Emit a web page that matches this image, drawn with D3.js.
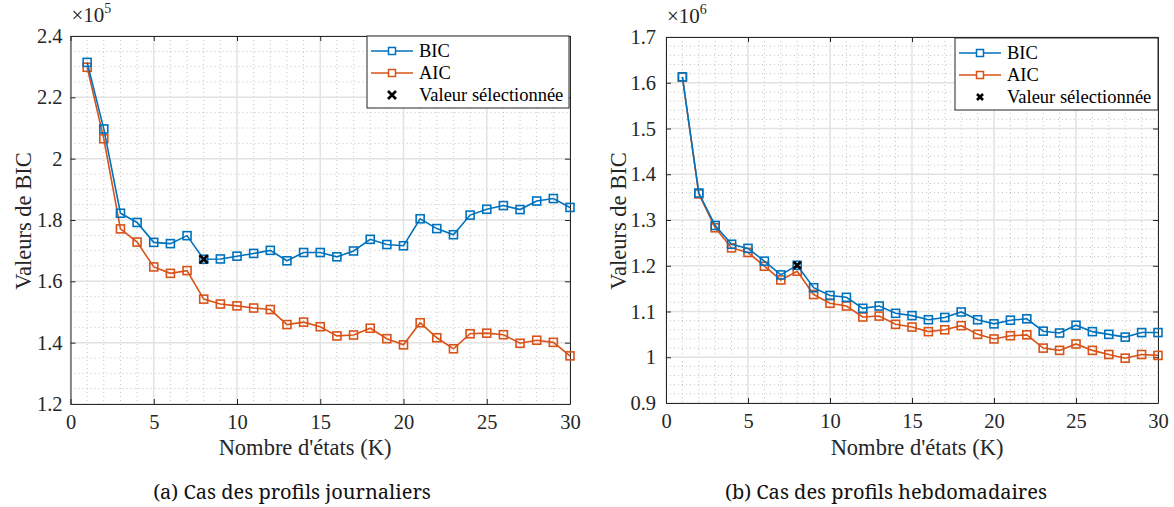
<!DOCTYPE html>
<html>
<head>
<meta charset="utf-8">
<script src="https://cdn.jsdelivr.net/npm/d3@7"></script>
<style>
  body { margin: 0; background: #fff; }
  svg { display: block; font-family: "Liberation Serif", "Times New Roman", serif; }
</style>
</head>
<body>
<svg id="chart" width="1174" height="507"></svg>
<script>
// number of states K (x categories)
const kValues = [1, 2, 3, 4, 5, 6, 7, 8, 9, 10, 11, 12, 13, 14, 15, 16, 17, 18, 19, 20, 21, 22, 23, 24, 25, 26, 27, 28, 29, 30];

// (a) daily profiles
const dailyBIC = [231400, 209700, 182200, 179200, 172700, 172300, 174900, 167200, 167300, 168200, 169100, 170100, 166700, 169400, 169400, 168000, 169900, 173700, 172000, 171600, 180400, 177200, 175200, 181600, 183500, 184700, 183400, 186200, 187000, 184100];
const dailyAIC = [229800, 206500, 177100, 172800, 164700, 162600, 163500, 154200, 152600, 152000, 151300, 150800, 145900, 146700, 145200, 142200, 142500, 144700, 141300, 139300, 146500, 141600, 138000, 142900, 143100, 142600, 139800, 140800, 140100, 135700];
const dailyYTicks = [120000, 140000, 160000, 180000, 200000, 220000, 240000];

// (b) weekly profiles
const weeklyBIC = [1613000, 1359000, 1288000, 1247000, 1238000, 1210000, 1180000, 1201000, 1152000, 1135000, 1131000, 1107000, 1112000, 1096000, 1091000, 1082000, 1087000, 1099000, 1082000, 1073000, 1081000, 1084000, 1057000, 1053000, 1070000, 1056000, 1050000, 1044000, 1054000, 1054000];
const weeklyAIC = [1612000, 1357000, 1283000, 1239000, 1229000, 1199000, 1169000, 1188000, 1137000, 1118000, 1112000, 1088000, 1090000, 1072000, 1066000, 1056000, 1060000, 1069000, 1050000, 1040000, 1047000, 1049000, 1020000, 1015000, 1029000, 1015000, 1006000, 998000, 1006000, 1004000];
const weeklyYTicks = [900000, 1000000, 1100000, 1200000, 1300000, 1400000, 1500000, 1600000, 1700000];

const xTicks = [0, 5, 10, 15, 20, 25, 30];
const selectedK = 8;
const legendLabels = ["BIC", "AIC", "Valeur sélectionnée"];

const blue = "#0072BD", orange = "#D95319", axisColor = "#262626";
const svg = d3.select("#chart");

function drawPanel(p) {
    const x = d3.scaleLinear().domain([0, 30]).range([p.left, p.right]);
    const y = d3.scaleLinear().domain(p.yDomain).range([p.bottom, p.top]);
    const g = svg.append("g");

    // minor grid (dotted)
    const xMinor = d3.range(0, 31, 1).filter(v => v % 5 !== 0);
    g.selectAll(".xminor").data(xMinor).enter().append("line")
        .attr("x1", d => x(d)).attr("x2", d => x(d))
        .attr("y1", p.top).attr("y2", p.bottom)
        .attr("stroke", "#c4c4c4").attr("stroke-width", 1).attr("stroke-dasharray", "1,3");
    const yMinor = d3.range(p.yDomain[0], p.yDomain[1] + 1, p.yMinorStep)
        .filter(v => !p.yTicks.some(t => Math.abs(t - v) < p.yMinorStep / 10));
    g.selectAll(".yminor").data(yMinor).enter().append("line")
        .attr("x1", p.left).attr("x2", p.right)
        .attr("y1", d => y(d)).attr("y2", d => y(d))
        .attr("stroke", "#c4c4c4").attr("stroke-width", 1).attr("stroke-dasharray", "1,3");

    // major grid
    g.selectAll(".xmajor").data(xTicks).enter().append("line")
        .attr("x1", d => x(d)).attr("x2", d => x(d))
        .attr("y1", p.top).attr("y2", p.bottom)
        .attr("stroke", "#e2e2e2").attr("stroke-width", 1.5);
    g.selectAll(".ymajor").data(p.yTicks).enter().append("line")
        .attr("x1", p.left).attr("x2", p.right)
        .attr("y1", d => y(d)).attr("y2", d => y(d))
        .attr("stroke", "#e2e2e2").attr("stroke-width", 1.5);

    // axes, ticks inside, box on
    const fmt = d => d3.format(".1f")(d / p.scale).replace(/\.0$/, "");
    const axL = g.append("g").attr("transform", `translate(${p.left},0)`)
        .call(d3.axisLeft(y).tickValues(p.yTicks).tickSizeInner(-5).tickSizeOuter(0).tickPadding(p.yPad).tickFormat(fmt));
    const axR = g.append("g").attr("transform", `translate(${p.right},0)`)
        .call(d3.axisRight(y).tickValues(p.yTicks).tickSizeInner(-5).tickSizeOuter(0).tickFormat(""));
    const axB = g.append("g").attr("transform", `translate(0,${p.bottom})`)
        .call(d3.axisBottom(x).tickValues(xTicks).tickSizeInner(-5).tickSizeOuter(0).tickPadding(10));
    const axT = g.append("g").attr("transform", `translate(0,${p.top})`)
        .call(d3.axisTop(x).tickValues(xTicks).tickSizeInner(-5).tickSizeOuter(0).tickFormat(""));
    [axL, axR, axB, axT].forEach(a => {
        a.attr("font-family", null).attr("font-size", null);
        a.selectAll("path, line").attr("stroke", axisColor).attr("stroke-width", 1);
        a.selectAll("text").attr("fill", axisColor).style("font-size", "20.5px");
    });

    // exponent label
    const ex = g.append("text").attr("x", p.left + 1).attr("y", p.top - 14)
        .attr("fill", axisColor).style("font-size", "21px");
    ex.append("tspan").text("×10");
    ex.append("tspan").attr("dy", -9).style("font-size", "14px").text(p.exponent);

    // series
    const series = [
        { values: p.aic, color: orange },
        { values: p.bic, color: blue }
    ];
    const line = d3.line().x((d, i) => x(kValues[i])).y(d => y(d));
    series.forEach(s => {
        g.append("path").datum(s.values)
            .attr("d", line).attr("fill", "none")
            .attr("stroke", s.color).attr("stroke-width", 1.6);
        g.selectAll(null).data(s.values).enter().append("rect")
            .attr("x", (d, i) => x(kValues[i]) - p.ms / 2)
            .attr("y", d => y(d) - p.ms / 2)
            .attr("width", p.ms).attr("height", p.ms)
            .attr("fill", "none").attr("stroke", s.color).attr("stroke-width", 1.6);
    });

    // selected value
    const si = kValues.indexOf(selectedK);
    drawX(g, x(selectedK), y(p.bic[si]), p.xs);

    // axis titles and caption
    g.append("text").attr("x", p.xLabelX).attr("y", 455).attr("text-anchor", "middle")
        .attr("fill", axisColor).style("font-size", "22.5px").text("Nombre d'états (K)");
    g.append("text").attr("transform", `translate(${p.yLabelX},${(p.top + p.bottom) / 2 + 1}) rotate(-90)`)
        .attr("text-anchor", "middle").attr("fill", axisColor).style("font-size", "22.5px").text("Valeurs de BIC");
    g.append("text").attr("x", p.captionX).attr("y", 499).attr("text-anchor", "middle")
        .attr("fill", "#111").style("font-family", "'Noto Serif', 'Liberation Serif', serif")
        .style("font-size", "20px").text(p.caption);

    // legend
    const lg = g.append("g").attr("transform", `translate(${p.legX},${p.legY})`);
    lg.append("rect").attr("width", p.legW).attr("height", 72)
        .attr("fill", "#fff").attr("stroke", axisColor).attr("stroke-width", 1);
    const rows = [
        { label: legendLabels[0], color: blue, kind: "line" },
        { label: legendLabels[1], color: orange, kind: "line" },
        { label: legendLabels[2], color: "#000", kind: "x" }
    ];
    rows.forEach((r, i) => {
        const ry = 15 + i * 22;
        if (r.kind === "line") {
            lg.append("line").attr("x1", 4).attr("x2", 46).attr("y1", ry).attr("y2", ry)
                .attr("stroke", r.color).attr("stroke-width", 1.6);
            lg.append("rect").attr("x", 25 - p.ms / 2 + 0.5).attr("y", ry - p.ms / 2 + 0.5)
                .attr("width", p.ms - 1).attr("height", p.ms - 1)
                .attr("fill", "#fff").attr("stroke", r.color).attr("stroke-width", 1.5);
        } else {
            drawX(lg, 25, ry, p.legXs);
        }
        lg.append("text").attr("x", 52).attr("y", ry + 6)
            .attr("fill", "#000").style("font-size", "18.5px").text(r.label);
    });
}

function drawX(sel, cx, cy, s) {
    sel.append("path")
        .attr("d", `M${cx - s},${cy - s}L${cx + s},${cy + s}M${cx - s},${cy + s}L${cx + s},${cy - s}`)
        .attr("stroke", "#000").attr("stroke-width", 2.6).attr("fill", "none");
}

drawPanel({
    left: 70.5, right: 570, top: 36, bottom: 404,
    yDomain: [120000, 240000], yTicks: dailyYTicks, yMinorStep: 5000,
    scale: 1e5, exponent: "5", bic: dailyBIC, aic: dailyAIC, yPad: 8,
    ms: 8, xs: 4, legXs: 4, xLabelX: 305, yLabelX: 31, captionX: 292,
    caption: "(a) Cas des profils journaliers",
    legX: 367, legY: 36, legW: 202
});

drawPanel({
    left: 666, right: 1158, top: 37, bottom: 403,
    yDomain: [900000, 1700000], yTicks: weeklyYTicks, yMinorStep: 20000,
    scale: 1e6, exponent: "6", bic: weeklyBIC, aic: weeklyAIC, yPad: 10,
    ms: 8, xs: 3.5, legXs: 3, xLabelX: 917, yLabelX: 626, captionX: 886,
    caption: "(b) Cas des profils hebdomadaires",
    legX: 955, legY: 38, legW: 203
});
</script>
</body>
</html>
